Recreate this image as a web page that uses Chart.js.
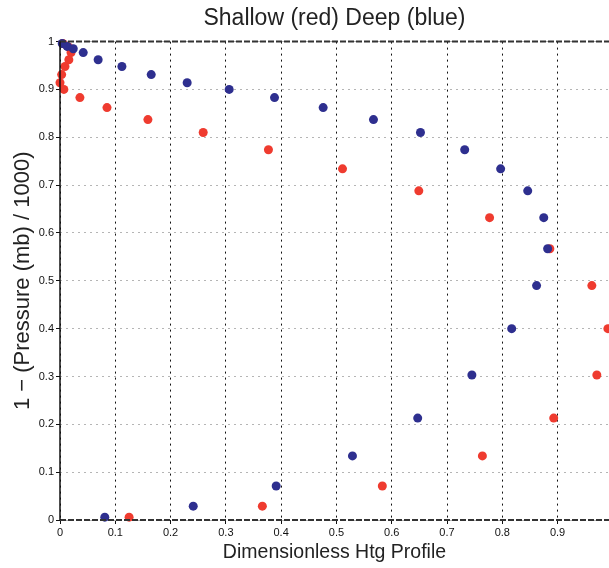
<!DOCTYPE html>
<html>
<head>
<meta charset="utf-8">
<script src="https://cdn.jsdelivr.net/npm/chart.js@4"></script>
<style>
  html, body { margin: 0; padding: 0; background: #fff; }
  #wrap { width: 609px; height: 568px; }
</style>
</head>
<body>
<div id="wrap"><canvas id="htgChart"></canvas></div>
<script>
// model levels, 1 - p/1000 (shared by both profiles)
const levels = [0.996, 0.99, 0.985, 0.977, 0.962, 0.948, 0.931, 0.914, 0.9, 0.883, 0.862, 0.837,
                0.81, 0.774, 0.734, 0.688, 0.632, 0.567, 0.49, 0.4, 0.303, 0.213, 0.134, 0.071, 0.029, 0.006];

// dimensionless heating at each level
const shallowHtg = [0.005, 0.014, 0.019, 0.02, 0.016, 0.009, 0.003, 0.0, 0.007, 0.036, 0.085, 0.159,
                    0.259, 0.377, 0.511, 0.649, 0.777, 0.886, 0.962, 0.991, 0.971, 0.893, 0.764, 0.583, 0.366, 0.125];
const deepHtg = [0.004, 0.013, 0.024, 0.042, 0.069, 0.112, 0.165, 0.23, 0.306, 0.388, 0.476, 0.567,
                 0.652, 0.732, 0.797, 0.846, 0.875, 0.882, 0.862, 0.817, 0.745, 0.647, 0.529, 0.391, 0.241, 0.081];

const xTicks = [0, 0.1, 0.2, 0.3, 0.4, 0.5, 0.6, 0.7, 0.8, 0.9];
const yTicks = [0, 0.1, 0.2, 0.3, 0.4, 0.5, 0.6, 0.7, 0.8, 0.9, 1];

const toPoints = (xs) => xs.map((x, i) => ({ x: x, y: levels[i] }));

// dashed frame along top and bottom of the plot, solid left axis
const frameLines = {
    id: 'frameLines',
    afterDatasetsDraw(chart) {
        const { ctx, chartArea } = chart;
        ctx.save();
        ctx.strokeStyle = '#333';
        ctx.lineWidth = 2;
        ctx.setLineDash([6, 2]);
        [chartArea.top, chartArea.bottom].forEach(y => {
            ctx.beginPath();
            ctx.moveTo(chartArea.left, y);
            ctx.lineTo(chartArea.right, y);
            ctx.stroke();
        });
        ctx.setLineDash([]);
        ctx.lineWidth = 1.5;
        ctx.strokeStyle = '#111';
        ctx.beginPath();
        ctx.moveTo(chartArea.left, chartArea.top);
        ctx.lineTo(chartArea.left, chartArea.bottom);
        ctx.stroke();
        ctx.restore();
    }
};

const fmt = v => (Math.round(v * 10) / 10).toString();

new Chart(document.getElementById('htgChart').getContext('2d'), {
    type: 'scatter',
    data: {
        datasets: [{
            label: 'Deep',
            data: toPoints(deepHtg),
            backgroundColor: '#2e2f8f',
            borderWidth: 0,
            pointRadius: 4.5,
            order: 0,
            clip: false
        }, {
            label: 'Shallow',
            data: toPoints(shallowHtg),
            backgroundColor: '#ef3b2f',
            borderWidth: 0,
            pointRadius: 4.5,
            order: 1,
            clip: false
        }]
    },
    options: {
        responsive: true,
        maintainAspectRatio: false,
        animation: false,
        layout: { padding: 0, autoPadding: false },
        plugins: {
            legend: { display: false },
            tooltip: { enabled: false },
            title: {
                display: true,
                fullSize: false,
                text: 'Shallow (red) Deep (blue)',
                color: '#222',
                font: { family: 'Liberation Sans', size: 23, weight: 'normal' },
                padding: { top: 5, bottom: 9 }
            }
        },
        scales: {
            x: {
                type: 'linear',
                min: 0,
                max: 0.993,
                afterBuildTicks: scale => { scale.ticks = xTicks.map(v => ({ value: v })); },
                afterFit: scale => {
                    scale.height = 48;
                    scale.paddingRight = 0;
                    scale.paddingLeft = 0;
                },
                ticks: {
                    callback: v => fmt(v),
                    color: '#111',
                    font: { family: 'Liberation Sans', size: 11 },
                    padding: 2,
                    maxRotation: 0
                },
                grid: {
                    color: '#111',
                    lineWidth: 1,
                    tickLength: 4,
                    tickColor: '#111'
                },
                border: { display: false, dash: [2, 4] },
                title: {
                    display: true,
                    text: 'Dimensionless Htg Profile',
                    color: '#222',
                    font: { family: 'Liberation Sans', size: 19.5 },
                    padding: { top: 0, bottom: 4 }
                }
            },
            y: {
                type: 'linear',
                min: 0,
                max: 1,
                afterBuildTicks: scale => { scale.ticks = yTicks.map(v => ({ value: v })); },
                afterFit: scale => {
                    scale.width = 60;
                    scale.paddingTop = 0;
                    scale.paddingBottom = 0;
                },
                ticks: {
                    callback: v => fmt(v),
                    color: '#111',
                    font: { family: 'Liberation Sans', size: 11 },
                    padding: 2
                },
                grid: {
                    color: '#b5b5b5',
                    lineWidth: 1,
                    tickLength: 4,
                    tickColor: '#111'
                },
                border: { display: false, dash: [2, 4] },
                title: {
                    display: true,
                    text: '1 − (Pressure (mb) / 1000)',
                    color: '#222',
                    font: { family: 'Liberation Sans', size: 22 },
                    padding: { top: 10, bottom: 0 }
                }
            }
        }
    },
    plugins: [frameLines]
});
</script>
</body>
</html>
